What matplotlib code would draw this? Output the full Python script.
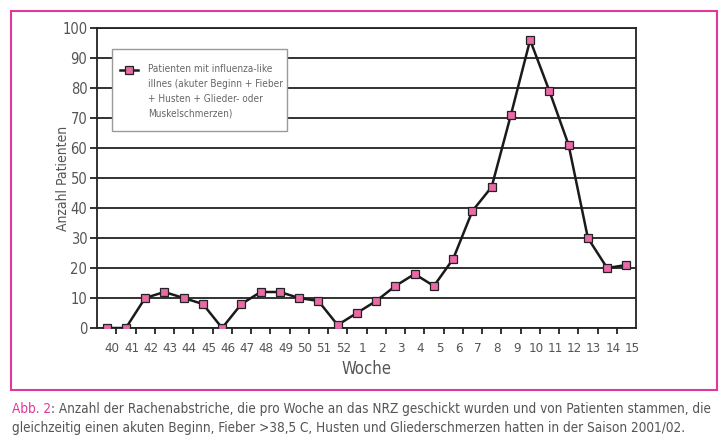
import numpy as np
import matplotlib
matplotlib.use('Agg')
import matplotlib.pyplot as plt
from matplotlib.patches import Rectangle
from matplotlib.lines import Line2D

# weekly counts, season 2001/02
weeks = ['40', '41', '42', '43', '44', '45', '46', '47', '48', '49', '50', '51', '52',
         '1', '2', '3', '4', '5', '6', '7', '8', '9', '10', '11', '12', '13', '14', '15']
patients = [0, 0, 10, 12, 10, 8, 0, 8, 12, 12, 10, 9, 1,
            5, 9, 14, 18, 14, 23, 39, 47, 71, 96, 79, 61, 30, 20, 21]

legend_text = ('Patienten mit influenza-like\nillnes (akuter Beginn + Fieber\n'
               '+ Husten + Glieder- oder\nMuskelschmerzen)')
caption_head = 'Abb. 2'
caption_body = (': Anzahl der Rachenabstriche, die pro Woche an das NRZ geschickt wurden '
                'und von Patienten stammen, die')
caption_line2 = ('gleichzeitig einen akuten Beginn, Fieber >38,5 C, Husten und '
                 'Gliederschmerzen hatten in der Saison 2001/02.')

W, H = 726, 442
pink = '#e0389a'
grey = '#555555'
cond = dict(family='DejaVu Sans', stretch='condensed')

fig = plt.figure(figsize=(W / 100, H / 100), dpi=100)
ax = fig.add_axes([97 / W, 1 - 328 / H, 539 / W, 300 / H])

x = np.arange(len(weeks))
ax.plot(x, patients, color='#1a1a1a', lw=1.8, marker='s', ms=5.5,
        mfc='#e86aa6', mec='#222222', mew=0.9, zorder=3)

ax.set_xlim(-0.5, len(weeks) - 0.5)
ax.set_ylim(0, 100)
ax.set_yticks(range(0, 101, 10))
ax.yaxis.grid(True, color='#222222', lw=1.3)
ax.set_axisbelow(True)
for s in ax.spines.values():
    s.set_color('#222222')
    s.set_linewidth(1.3)

# tick marks between categories, labels a little right of the points
ax.set_xticks(x[:-1] + 0.5)
ax.set_xticklabels([])
ax.set_xticks(x + 0.3, minor=True)
ax.set_xticklabels(weeks, minor=True, fontsize=9.5, color=grey, **cond)
ax.tick_params(axis='x', which='major', direction='out', length=4, width=1.3, color='#222222')
ax.tick_params(axis='x', which='minor', length=0, pad=10)
ax.tick_params(axis='y', direction='out', length=5, width=1.3, color='#222222',
               labelsize=10.5, labelcolor=grey, pad=2)
for t in ax.get_yticklabels():
    t.set_family('DejaVu Sans')
    t.set_stretch('condensed')

ax.set_xlabel('Woche', fontsize=12, color=grey, labelpad=4, **cond)
ax.set_ylabel('Anzahl Patienten', fontsize=10, color=grey, **cond)
ax.yaxis.set_label_coords(-27 / 539, 0.5)

# legend box drawn by hand so the key sits on the first text line
box = Rectangle((112 / W, 1 - 131 / H), 175 / W, 82 / H, transform=fig.transFigure,
                fc='white', ec='#999999', lw=1.0, zorder=5)
fig.patches.append(box)
key = Line2D([120 / W, 138 / W], [1 - 70 / H] * 2, transform=fig.transFigure,
             color='#1a1a1a', lw=1.8, zorder=6)
keym = Line2D([129 / W], [1 - 70 / H], transform=fig.transFigure, marker='s', ms=5.5,
              mfc='#e86aa6', mec='#222222', mew=0.9, zorder=7)
fig.lines.extend([key, keym])
leg_txt = fig.text(148 / W, 1 - 64 / H, legend_text, fontsize=8, color='#666666', va='top',
                   linespacing=1.6, zorder=8, **cond)

# magenta frame around the chart
frame = Rectangle((11 / W, 1 - 390 / H), 706 / W, 379 / H,
                  transform=fig.transFigure, fill=False, ec=pink, lw=1.5)
fig.patches.append(frame)

# caption
fs = 10
t1 = fig.text(12 / W, 1 - 409 / H, caption_head, color=pink, fontsize=fs, va='center', **cond)
t2 = fig.text(0, 1 - 409 / H, caption_body, color=grey, fontsize=fs, va='center', **cond)
t3 = fig.text(12 / W, 1 - 428 / H, caption_line2, color=grey, fontsize=fs, va='center', **cond)
fig.canvas.draw()
r = fig.canvas.get_renderer()

# fit the legend text inside its box and the caption across the frame
lw_now = leg_txt.get_window_extent(r).width
leg_txt.set_fontsize(8 * 133 / lw_now)

total = t1.get_window_extent(r).width + t2.get_window_extent(r).width
fs = fs * 700 / total
for t in (t1, t2, t3):
    t.set_fontsize(fs)
fig.canvas.draw()
t2.set_x(t1.get_window_extent(r).x1 / W)

fig.savefig('out.png', dpi=100)
